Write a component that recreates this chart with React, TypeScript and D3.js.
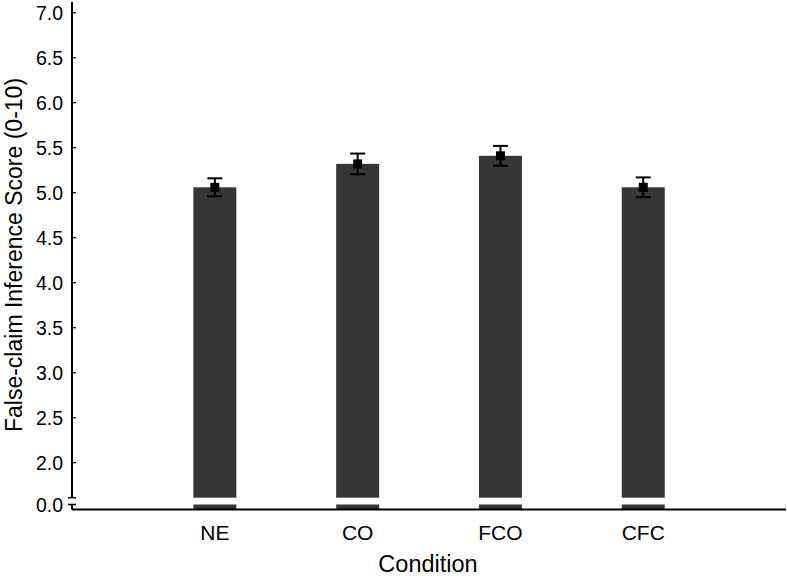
import React from "react";
import * as d3 from "d3";

const categories = ["NE", "CO", "FCO", "CFC"];
const means = [5.06, 5.32, 5.41, 5.06];
const errors = [0.1, 0.115, 0.11, 0.11];
const yTicks = [2.0, 2.5, 3.0, 3.5, 4.0, 4.5, 5.0, 5.5, 6.0, 6.5, 7.0];
const lowTicks = [0.0];

const W = 787;
const H = 576;
const axisX = 72;
const axisRight = 786;
const xAxisY = 509.5;
const breakTop = 497.7;
const lowTop = 504.5;

export default function App() {
  const x = d3.scaleBand<string>().domain(["", ...categories]).range([axisX - 71.35, axisRight - 71.35]).paddingInner(0.7).paddingOuter(0.35);
  const xc = (c: string) => (x(c) as number) + x.bandwidth() / 2;
  const bw = 43;
  const y = d3.scaleLinear().domain([2, 7.1]).range([462.7, 3.7]);
  const yLow = d3.scaleLinear().domain([0, 0.05]).range([lowTop, lowTop - 4.5]);
  const font = "Liberation Sans, Arial, Helvetica, sans-serif";
  return (
    <svg width={W} height={H} style={{ position: "absolute", left: 0, top: 0 }} fontFamily={font}>
      <rect width={W} height={H} fill="#fff" />
      {categories.map((c, i) => (
        <g key={c}>
          <rect x={xc(c) - bw / 2} y={y(means[i])} width={bw} height={breakTop - y(means[i])} fill="#363636" />
          <rect x={xc(c) - bw / 2} y={yLow(0)} width={bw} height={xAxisY - yLow(0)} fill="#363636" />
          <line x1={xc(c)} x2={xc(c)} y1={y(means[i] + errors[i])} y2={y(means[i] - errors[i])} stroke="#000" strokeWidth={2} />
          <line x1={xc(c) - 7.5} x2={xc(c) + 7.5} y1={y(means[i] + errors[i])} y2={y(means[i] + errors[i])} stroke="#000" strokeWidth={2} />
          <line x1={xc(c) - 7.5} x2={xc(c) + 7.5} y1={y(means[i] - errors[i])} y2={y(means[i] - errors[i])} stroke="#000" strokeWidth={2} />
          <rect x={xc(c) - 4.5} y={y(means[i]) - 4.5} width={9} height={9} fill="#000" />
          <text x={xc(c)} y={540} textAnchor="middle" fontSize={21} fill="#000">{c}</text>
        </g>
      ))}
      {/* y axis upper segment */}
      <line x1={axisX} x2={axisX} y1={2} y2={breakTop} stroke="#000" strokeWidth={2} />
      <line x1={axisX - 4} x2={axisX + 4} y1={breakTop} y2={breakTop} stroke="#000" strokeWidth={1.5} />
      {yTicks.map((t) => (
        <g key={t}>
          <line x1={axisX} x2={axisX + 4} y1={y(t)} y2={y(t)} stroke="#000" strokeWidth={1.2} />
          <text x={axisX - 9} y={y(t)} dy="0.36em" textAnchor="end" fontSize={19.5} fill="#000">{d3.format(".1f")(t)}</text>
        </g>
      ))}
      {/* y axis lower segment */}
      <line x1={axisX} x2={axisX} y1={yLow(0)} y2={xAxisY} stroke="#000" strokeWidth={2} />
      {lowTicks.map((t) => (
        <g key={t}>
          <line x1={axisX - 4} x2={axisX + 4} y1={yLow(t)} y2={yLow(t)} stroke="#000" strokeWidth={1.5} />
          <text x={axisX - 9} y={yLow(t)} dy="0.36em" textAnchor="end" fontSize={19.5} fill="#000">{d3.format(".1f")(t)}</text>
        </g>
      ))}
      {/* x axis */}
      <line x1={axisX} x2={axisRight} y1={xAxisY} y2={xAxisY} stroke="#000" strokeWidth={2} />
      <text x={428} y={572} textAnchor="middle" fontSize={23.5} fill="#000">Condition</text>
      <text transform={`translate(22,255) rotate(-90)`} textAnchor="middle" fontSize={23} fill="#000">False-claim Inference Score (0-10)</text>
    </svg>
  );
}
